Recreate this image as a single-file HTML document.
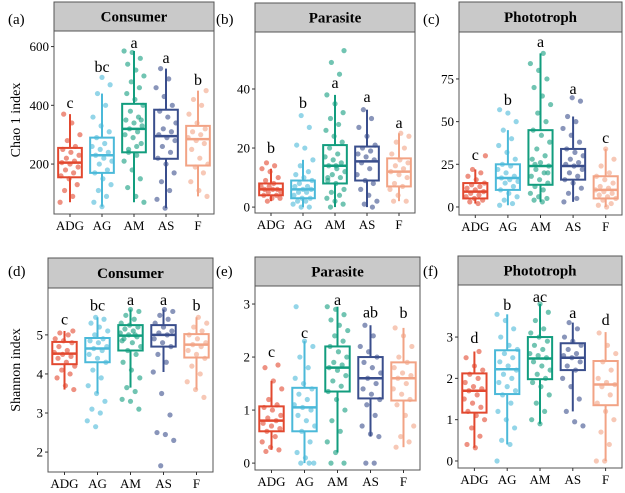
<!DOCTYPE html>
<html><head><meta charset="utf-8">
<style>
html,body{margin:0;padding:0;background:#fff;}
svg{display:block;font-family:"Liberation Serif",serif;}
</style></head>
<body>
<svg id="chart" width="625" height="493" viewBox="0 0 625 493" xmlns="http://www.w3.org/2000/svg">
<text x="20" y="120" font-size="14" text-anchor="middle" transform="rotate(-90 20 120)">Chao 1 index</text>
<text x="20" y="370" font-size="14" text-anchor="middle" transform="rotate(-90 20 370)">Shannon index</text>
</svg>
<script>
const categories = ["ADG","AG","AM","AS","F"];
const colors = ["#e2482f","#4bb9d9","#129d7e","#3a4e8c","#f2a385"];

const titles = ["Consumer","Parasite","Phototroph","Consumer","Parasite","Phototroph"];
const panelLabels = ["(a)","(b)","(c)","(d)","(e)","(f)"];
const domains = [[30,653],[-2,59.3],[-4.7,102.5],[1.49,6.2],[-0.13,3.34],[-0.17,4.26]];
const ticks = [[200,400,600],[0,20,40],[0,25,50,75],[2,3,4,5],[0,1,2,3],[0,1,2,3]];

// box stats per panel: [q1, median, q3, whiskerLow, whiskerHigh]
const boxA = [[155,205,255,70,370],[170,230,290,55,440],[240,320,405,70,585],[218,295,385,50,525],[195,285,330,90,450]];
const boxB = [[4,6,8,2,13],[3,6,9,0,16],[8,14,21,0,38],[9,15.5,20.5,0,33],[7,12,16.5,2,25]];
const boxC = [[5,9,14,2,22],[10,17,25,1,45],[13,24,45,3,90],[16,24,34,3,53],[5,10,18,0,34]];
const boxD = [[4.25,4.52,4.82,3.6,5.1],[4.3,4.65,4.92,3.5,5.45],[4.6,4.98,5.25,3.65,5.65],[4.7,5.0,5.25,4.05,5.65],[4.42,4.75,5.02,3.6,5.45]];
const boxE = [[0.6,0.8,1.07,0.25,1.55],[0.6,1.05,1.42,0,2.3],[1.35,1.8,2.2,0.2,2.95],[1.22,1.6,2.0,0.5,2.6],[1.18,1.6,1.9,0.3,2.55]];
const boxF = [[1.17,1.7,2.12,0.32,2.65],[1.62,2.22,2.68,0.4,3.55],[1.98,2.48,3.0,0.9,3.8],[2.2,2.5,2.85,1.2,3.35],[1.35,1.85,2.42,0,3.12]];

const lettersA = ["c","bc","a","a","b"], letterYA = [391,513,595,544,469];
const lettersB = ["b","b","a","a","a"], letterYB = [18.3,33.6,40.3,35.6,26.8];
const lettersC = ["c","b","a","a","c"], letterYC = [27.5,59.7,93.7,66.2,37.5];
const lettersD = ["c","bc","a","a","b"], letterYD = [5.26,5.62,5.77,5.77,5.62];
const lettersE = ["c","c","a","ab","b"], letterYE = [2.0,2.36,2.98,2.75,2.74];
const lettersF = ["d","b","ac","a","d"], letterYF = [2.86,3.66,3.85,3.46,3.29];

const ptsA = [
[70,90,110,130,150,160,170,180,190,200,205,210,220,230,240,250,260,280,300,340,370],
[55,70,90,110,130,150,170,180,200,210,220,230,240,250,260,270,290,310,330,360,400,440,470,495],
[70,90,120,150,180,210,230,250,270,290,300,310,320,330,340,350,360,380,400,420,440,460,480,500,520,540,560,580,585,260,240,350],
[50,80,110,140,170,200,220,240,260,280,290,300,310,320,340,360,380,400,430,460,490,525],
[90,110,140,170,190,200,220,250,270,280,290,300,310,320,340,370,400,420,450]];
const ptsB = [
[2,3,3,4,4,5,5,6,6,6,7,7,8,9,10,12,13,14,15],
[0,0,1,2,2,3,3,4,5,5,6,6,7,7,8,9,10,11,12,14,16,20,21,27,31],
[0,1,2,3,4,5,6,8,9,10,11,12,13,14,15,16,17,18,20,22,24,26,28,30,32,35,38,45,49,53,14,10],
[0,1,2,4,6,8,9,11,13,15,16,17,18,19,20,21,24,27,30,33],
[2,2,4,6,7,8,10,11,12,13,14,15,16,18,20,22,24,25]];
const ptsC = [
[2,3,4,5,6,7,8,9,10,11,12,13,14,16,18,20,22,30],
[1,2,4,6,8,10,12,14,15,16,17,18,20,22,24,25,28,32,36,40,45,50,55,57],
[3,4,5,6,8,10,12,14,16,18,20,22,24,26,28,30,34,38,42,45,50,55,60,65,70,75,80,84,90,25,20],
[3,5,8,11,14,16,18,20,22,24,25,26,28,30,32,34,38,42,46,50,53,62,64],
[0,1,2,4,5,6,7,8,9,10,11,12,14,16,18,20,24,28,34]];
const ptsD = [
[3.6,3.7,3.9,4.0,4.1,4.2,4.3,4.4,4.45,4.5,4.55,4.6,4.7,4.8,4.85,4.9,5.0,5.05,5.1],
[2.65,2.8,3.0,3.1,3.3,3.5,3.7,3.9,4.1,4.3,4.4,4.5,4.6,4.65,4.7,4.8,4.85,4.9,5.0,5.1,5.2,5.3,5.4,5.45],
[3.1,3.3,3.35,3.55,3.65,3.9,4.1,4.3,4.5,4.6,4.7,4.8,4.9,4.95,5.0,5.05,5.1,5.15,5.2,5.25,5.3,5.4,5.5,5.6,5.65,4.85,5.0],
[1.65,2.3,2.45,2.5,2.95,3.5,4.05,4.3,4.5,4.7,4.8,4.9,5.0,5.05,5.1,5.2,5.3,5.4,5.5,5.6,5.65],
[3.4,3.6,3.8,4.0,4.2,4.4,4.5,4.6,4.7,4.75,4.8,4.9,5.0,5.1,5.2,5.3,5.45]];
const ptsE = [
[0.22,0.25,0.3,0.4,0.5,0.6,0.65,0.7,0.75,0.8,0.85,0.9,1.0,1.05,1.1,1.2,1.4,1.55,1.8,1.85],
[0,0,0,0.1,0.2,0.4,0.6,0.7,0.8,0.9,1.0,1.05,1.1,1.2,1.3,1.4,1.5,1.6,1.8,2.0,2.2,2.3,2.95],
[0,0,0.2,0.4,0.6,0.8,1.0,1.2,1.35,1.45,1.55,1.65,1.75,1.8,1.85,1.9,2.0,2.1,2.2,2.3,2.4,2.5,2.6,2.7,2.8,2.9,2.95],
[0,0,0.5,0.55,0.7,0.9,1.1,1.2,1.3,1.4,1.5,1.6,1.7,1.8,1.9,2.0,2.1,2.2,2.4,2.6],
[0.3,0.4,0.5,0.7,0.9,1.1,1.2,1.3,1.4,1.5,1.6,1.65,1.7,1.8,1.9,2.0,2.2,2.4,2.55]];
const ptsF = [
[0.32,0.4,0.6,0.8,1.0,1.1,1.2,1.3,1.4,1.5,1.6,1.7,1.75,1.8,1.9,2.0,2.1,2.2,2.3,2.5,2.65],
[0,0.4,0.5,0.8,1.0,1.2,1.4,1.6,1.7,1.8,1.9,2.0,2.1,2.2,2.3,2.4,2.5,2.6,2.7,2.8,3.0,3.2,3.4,3.55],
[0.9,1.0,1.2,1.4,1.6,1.8,1.9,2.0,2.1,2.2,2.3,2.4,2.5,2.55,2.6,2.7,2.8,2.9,3.0,3.1,3.2,3.4,3.6,3.8],
[0.85,0.95,1.2,1.5,1.8,2.0,2.2,2.3,2.4,2.5,2.55,2.6,2.7,2.8,2.9,3.0,3.2,3.35],
[0,0,0.4,0.7,1.0,1.2,1.4,1.6,1.8,1.85,1.9,2.0,2.2,2.4,2.6,2.8,3.1]];

const boxes = [boxA,boxB,boxC,boxD,boxE,boxF];
const letters = [lettersA,lettersB,lettersC,lettersD,lettersE,lettersF];
const letterYs = [letterYA,letterYB,letterYC,letterYD,letterYE,letterYF];
const points = [ptsA,ptsB,ptsC,ptsD,ptsE,ptsF];

// layout (pixels): [x0, x1, headerTop, plotTop, plotBottom, labelX, labelY]
const layout = [
 [54,214,2,31,214,8,24],[255,415,3,32,213,216,24],[459,622,2,32,215,423,24],
 [48,213,258,288,472,8,276],[255,420,257,286,470,216,276],[458,622,256,285,468,423,276]];

const NS="http://www.w3.org/2000/svg";
const svg=document.getElementById("chart");
function mk(tag,attrs,parent){const e=document.createElementNS(NS,tag);for(const k in attrs)e.setAttribute(k,attrs[k]);(parent||svg).appendChild(e);return e;}

layout.forEach((L,p)=>{
  const [x0,x1,hTop,pTop,pBot,lx,ly]=L;
  const dom=domains[p];
  const y=v=>pBot-(v-dom[0])/(dom[1]-dom[0])*(pBot-pTop);
  const band=(x1-x0)/5;
  const cx=i=>x0+band*(i+0.5);
  const g=mk("g",{});
  
  
  const pl=mk("text",{x:lx,y:ly,"font-size":15},g);pl.textContent=panelLabels[p];
  
  
  const hd=mk("rect",{x:x0,y:hTop,width:x1-x0,height:pTop-hTop,fill:"#c9c9c9",stroke:"#555","stroke-width":1},g);
  
  
  const ht=mk("text",{x:(x0+x1)/2,y:(hTop+pTop)/2+5,"font-size":15,"font-weight":"bold","text-anchor":"middle"},g);
  ht.textContent=titles[p];
  
  
  const fr=mk("rect",{x:x0,y:pTop,width:x1-x0,height:pBot-pTop,fill:"#fff",stroke:"#555","stroke-width":1},g);
  
  
  ticks[p].forEach(t=>{
    mk("line",{x1:x0-3,x2:x0,y1:y(t),y2:y(t),stroke:"#333"},g);
    const tt=mk("text",{x:x0-5,y:y(t)+4.5,"font-size":13,"text-anchor":"end"},g);
    tt.textContent=t;
    
    
  });
  categories.forEach((c,i)=>{
    mk("line",{x1:cx(i),x2:cx(i),y1:pBot,y2:pBot+3,stroke:"#333"},g);
    const tt=mk("text",{x:cx(i),y:pBot+16,"font-size":13,"text-anchor":"middle"},g);
    tt.textContent=c;
    
    
    const b=boxes[p][i], col=colors[i], bw=band*0.74;
    const bg=mk("g",{},g);
    
    
    mk("line",{x1:cx(i),x2:cx(i),y1:y(b[3]),y2:y(b[0]),stroke:col,"stroke-width":2},bg);
    mk("line",{x1:cx(i),x2:cx(i),y1:y(b[2]),y2:y(b[4]),stroke:col,"stroke-width":2},bg);
    mk("rect",{x:cx(i)-bw/2,y:y(b[2]),width:bw,height:y(b[0])-y(b[2]),fill:"none",stroke:col,"stroke-width":2},bg);
    mk("line",{x1:cx(i)-bw/2,x2:cx(i)+bw/2,y1:y(b[1]),y2:y(b[1]),stroke:col,"stroke-width":2.5},bg);
    points[p][i].forEach((v,k)=>{
      const off=(((k*37+i*11+p*7)%23)/22-0.5)*band*0.62;
      const pt=mk("circle",{cx:cx(i)+off,cy:y(v),r:2.6,fill:col,"fill-opacity":0.6},bg);
      
      
    });
    const lt=mk("text",{x:cx(i),y:y(letterYs[p][i]),"font-size":16,"text-anchor":"middle"},g);
    lt.textContent=letters[p][i];
    
    
  });
});
</script>
</body></html>
